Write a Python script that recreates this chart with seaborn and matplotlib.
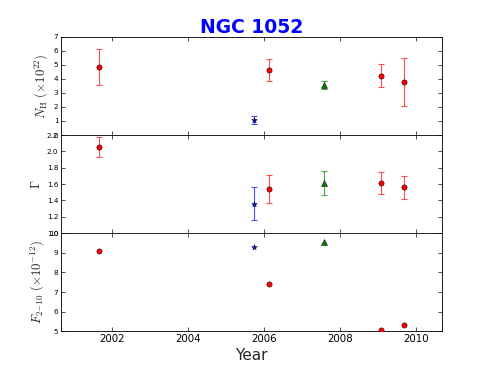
import matplotlib
matplotlib.use("Agg")
import matplotlib.pyplot as plt
import seaborn as sns
import pandas as pd

# ---- data ----
years = [2001.66, 2005.74, 2006.13, 2007.58, 2009.08, 2009.67]
groups = ["red", "blue", "red", "green", "red", "red"]
nh = [4.83, 1.05, 4.64, 3.55, 4.21, 3.76]
nh_err = [1.27, 0.31, 0.79, 0.27, 0.80, 1.73]
gamma = [2.05, 1.36, 1.54, 1.61, 1.61, 1.56]
gamma_err = [0.12, 0.20, 0.17, 0.15, 0.13, 0.14]
flux = [9.10, 9.31, 7.39, 9.53, 5.05, 5.30]

nh_ticks = [0, 1, 2, 3, 4, 5, 6, 7]
gamma_ticks = [1.0, 1.2, 1.4, 1.6, 1.8, 2.0, 2.2]
flux_ticks = [5, 6, 7, 8, 9, 10]
year_ticks = [2002, 2004, 2006, 2008, 2010]

df = pd.DataFrame({"year": years, "group": groups, "nh": nh, "nh_err": nh_err,
                   "gamma": gamma, "gamma_err": gamma_err, "flux": flux})

styles = {
    "red": dict(color="#ff0000", ecolor="#ff4d4d", marker="o", size=38),
    "blue": dict(color="#0000ff", ecolor="#4d4dff", marker="*", size=45),
    "green": dict(color="#008000", ecolor="#4da64d", marker="^", size=48),
}

sns.set_style("ticks")
plt.rcParams["font.family"] = ["DejaVu Sans"]
plt.rcParams["mathtext.fontset"] = "cm"
plt.rcParams["xtick.direction"] = "in"
plt.rcParams["ytick.direction"] = "in"

fig, axes = plt.subplots(3, 1, sharex=True, figsize=(8, 6), dpi=61.375)
fig.subplots_adjust(left=0.125, right=0.9, bottom=0.1, top=0.9, hspace=0)

panels = [
    ("nh", "nh_err", r"$N_{\rm H}$ $(\times 10^{22})$", (0, 7), nh_ticks),
    ("gamma", "gamma_err", r"$\Gamma$", (1.0, 2.2), gamma_ticks),
    ("flux", None, r"$F_{2{-}10}$ $(\times 10^{-12})$", (5, 10), flux_ticks),
]

for ax, (col, ecol, label, lim, ticks) in zip(axes, panels):
    for g, st in styles.items():
        sub = df[df["group"] == g]
        if ecol is not None:
            ax.errorbar(sub["year"].to_numpy(), sub[col].to_numpy(),
                        yerr=sub[ecol].to_numpy(), fmt="none",
                        ecolor=st["ecolor"], capsize=3,
                        elinewidth=1.3, capthick=1.3, zorder=2)
        sns.scatterplot(data=sub, x="year", y=col, ax=ax, marker=st["marker"],
                        color=st["color"], s=st["size"], edgecolor="black",
                        linewidth=0.6, zorder=3, legend=False)
    ax.set_ylim(*lim)
    ax.set_yticks(ticks)
    ax.set_ylabel(label, fontsize=15)
    ax.tick_params(axis="both", which="both", top=True, right=True,
                   length=5, width=0.8, colors="black")
    ax.tick_params(axis="y", labelsize=8.5)
    ax.tick_params(axis="x", labelsize=12)
    for sp in ax.spines.values():
        sp.set_visible(True)
        sp.set_color("black")
        sp.set_linewidth(1.0)
    ax.set_xlabel("")

axes[0].set_yticklabels([str(t) for t in nh_ticks])
axes[1].set_yticklabels([f"{t:.1f}" for t in gamma_ticks])
axes[2].set_yticklabels([str(t) for t in flux_ticks])

axes[2].set_xlim(2000.66, 2010.68)
axes[2].set_xticks(year_ticks)
axes[2].set_xticklabels([str(y) for y in year_ticks])
axes[2].set_xlabel("Year", fontsize=18)
axes[0].set_title("NGC 1052", color="blue", fontsize=22, fontweight="bold", pad=5)

fig.savefig("out.png", dpi=61.375)
